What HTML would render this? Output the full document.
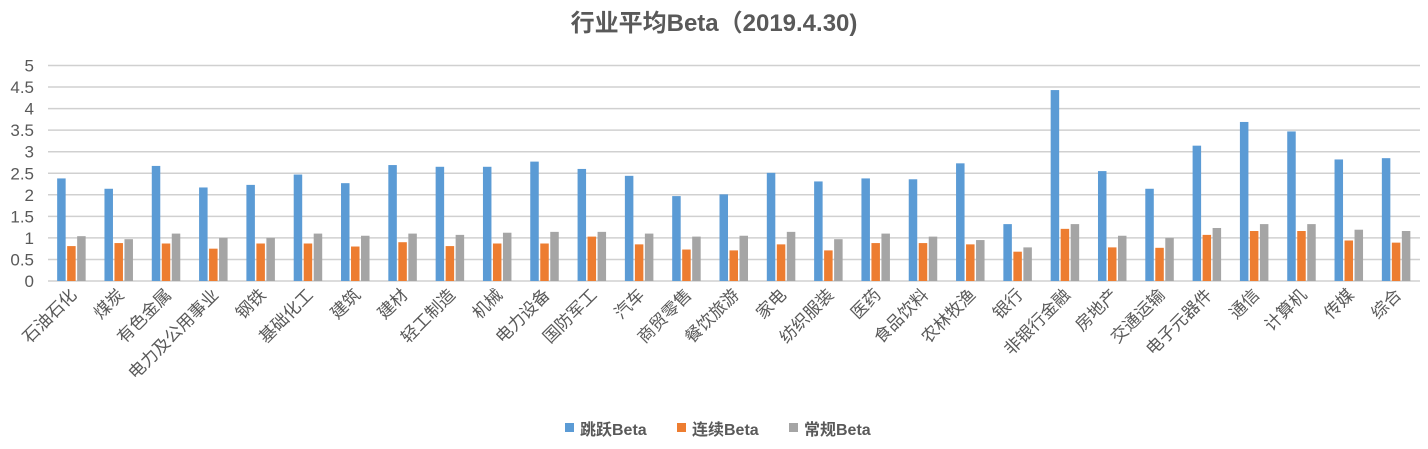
<!DOCTYPE html>
<html><head><meta charset="utf-8"><style>
body{margin:0;background:#fff;width:1428px;height:444px;overflow:hidden}
svg text{font-family:"Liberation Sans","Noto Sans CJK SC",sans-serif;fill:#595959}
</style></head><body>
<svg id="chart" width="1428" height="444" xmlns="http://www.w3.org/2000/svg">
<text x="714" y="31" text-anchor="middle" font-size="24" font-weight="bold">行业平均Beta（2019.4.30)</text>
<g id="grid"></g><g id="yticks"></g><g id="bars"></g><g id="xlabels"></g>
<g>
<rect x="565" y="423" width="9" height="9" fill="#5B9BD5"/>
<text x="580" y="435" font-size="16" font-weight="bold">跳跃Beta</text>
<rect x="677" y="423" width="9" height="9" fill="#ED7D31"/>
<text x="692" y="435" font-size="16" font-weight="bold">连续Beta</text>
<rect x="789" y="423" width="9" height="9" fill="#A5A5A5"/>
<text x="804" y="435" font-size="16" font-weight="bold">常规Beta</text>
</g>
</svg>
<script>
const categories=["石油石化","煤炭","有色金属","电力及公用事业","钢铁","基础化工","建筑","建材","轻工制造","机械","电力设备","国防军工","汽车","商贸零售","餐饮旅游","家电","纺织服装","医药","食品饮料","农林牧渔","银行","非银行金融","房地产","交通运输","电子元器件","通信","计算机","传媒","综合"];
const jumpBeta=[2.38,2.14,2.67,2.17,2.23,2.47,2.27,2.69,2.65,2.65,2.77,2.60,2.44,1.97,2.01,2.51,2.31,2.38,2.36,2.73,1.32,4.43,2.55,2.14,3.14,3.69,3.47,2.82,2.85];
const contBeta=[0.81,0.88,0.87,0.75,0.87,0.87,0.80,0.90,0.81,0.87,0.87,1.03,0.85,0.73,0.71,0.85,0.71,0.88,0.88,0.85,0.68,1.21,0.78,0.77,1.07,1.16,1.16,0.94,0.89];
const regBeta=[1.04,0.97,1.10,1.00,1.00,1.10,1.05,1.10,1.07,1.12,1.14,1.14,1.10,1.03,1.05,1.14,0.97,1.10,1.03,0.95,0.78,1.32,1.05,1.00,1.23,1.32,1.32,1.19,1.16];
const yTicks=["0","0.5","1","1.5","2","2.5","3","3.5","4","4.5","5"];
const NS="http://www.w3.org/2000/svg";
const x0=48,x1=1420,yBase=281,yTop=65.5,yMax=5;
const bw=(x1-x0)/categories.length;
const y=v=>yBase-(v/yMax)*(yBase-yTop);
const xc=i=>x0+bw*(i+0.5);
function mk(t,a,p){const e=document.createElementNS(NS,t);for(const k in a)e.setAttribute(k,a[k]);p.appendChild(e);return e;}
const G=document.getElementById('grid'),YT=document.getElementById('yticks'),B=document.getElementById('bars'),XL=document.getElementById('xlabels');
yTicks.forEach(t=>{const v=parseFloat(t);
const l=mk('line',{x1:x0,x2:x1,y1:y(v),y2:y(v),stroke:'#D0D0D0','stroke-width':1.5},G);


const tx=mk('text',{x:34,y:y(v)+6,'text-anchor':'end','font-size':17},YT);tx.textContent=t;


});
const series=[[jumpBeta,'#5B9BD5','jump'],[contBeta,'#ED7D31','cont'],[regBeta,'#A5A5A5','regular']];
const w=8.5,gap=1.5;
categories.forEach((c,i)=>{
series.forEach((s,j)=>{const v=s[0][i];const bx=xc(i)-14.5+j*(w+gap);
const r=mk('rect',{x:bx,y:y(v),width:w,height:yBase-y(v),fill:s[1]},B);


});
const lx=xc(i)+6,ly=296;
const t=mk('text',{x:lx,y:ly,'text-anchor':'end','font-size':17,transform:`rotate(-45 ${lx} ${ly})`},XL);t.textContent=c;


});
</script>
</body></html>
